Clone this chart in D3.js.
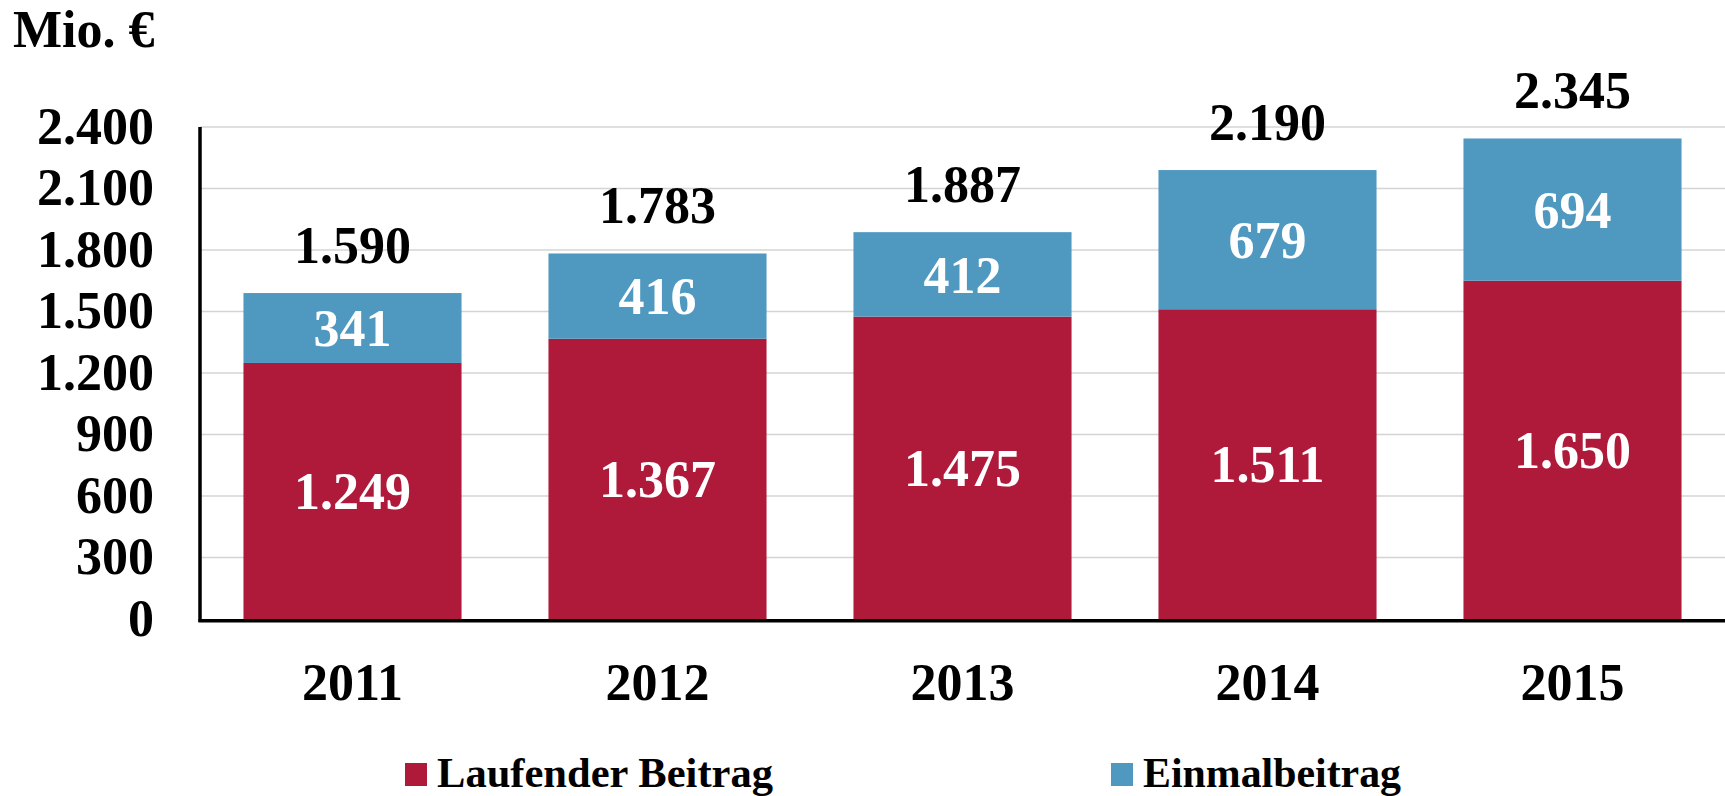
<!DOCTYPE html>
<html>
<head>
<meta charset="utf-8">
<script src="https://cdn.jsdelivr.net/npm/d3@7"></script>
<style>
  html, body { margin: 0; padding: 0; background: #fff; }
  svg { display: block; font-family: "Liberation Serif", "Times New Roman", serif; font-weight: bold; }
</style>
</head>
<body>
<svg id="chart" width="1725" height="796"></svg>
<script>
// ---------- data ----------
const years = ["2011", "2012", "2013", "2014", "2015"];
const laufend = [1249, 1367, 1475, 1511, 1650];
const einmal = [341, 416, 412, 679, 694];
const totals = [1590, 1783, 1887, 2190, 2345];
const yTicks = [0, 300, 600, 900, 1200, 1500, 1800, 2100, 2400];
const seriesNames = ["Laufender Beitrag", "Einmalbeitrag"];
const seriesColors = ["#af1a3a", "#4f98c0"];

// ---------- layout ----------
const plotLeft = 200, plotRight = 1725, plotTop = 127, plotBottom = 619;
const fmt = (v) => d3.format(",")(v).replace(/,/g, ".");

const svg = d3.select("#chart");

const x = d3.scaleBand().domain(years).range([plotLeft, plotRight])
  .paddingInner(0.285).paddingOuter(0.1425);
const y = d3.scaleLinear().domain([0, 2400]).range([plotBottom, plotTop]);

// gridlines
svg.append("g")
  .selectAll("line")
  .data(yTicks.slice(1))
  .join("line")
  .attr("x1", plotLeft).attr("x2", plotRight)
  .attr("y1", (d) => y(d)).attr("y2", (d) => y(d))
  .attr("stroke", "#d4d4d4")
  .attr("stroke-width", 1.5);

// y tick labels
svg.append("g")
  .selectAll("text")
  .data(yTicks)
  .join("text")
  .attr("x", 154)
  .attr("y", (d) => y(d))
  .attr("dy", "0.32em")
  .attr("text-anchor", "end")
  .attr("font-size", 52)
  .text((d) => fmt(d));

// stacked bars
const rows = years.map((yr, i) => ({ year: yr, laufend: laufend[i], einmal: einmal[i], total: totals[i] }));
const stack = d3.stack().keys(["laufend", "einmal"])(rows);

const layer = svg.append("g")
  .selectAll("g")
  .data(stack)
  .join("g")
  .attr("fill", (d, i) => seriesColors[i]);

layer.selectAll("rect")
  .data((d) => d)
  .join("rect")
  .attr("x", (d) => x(d.data.year))
  .attr("width", x.bandwidth())
  .attr("y", (d) => y(d[1]))
  .attr("height", (d) => y(d[0]) - y(d[1]));

// segment labels
layer.selectAll("text")
  .data((d) => d)
  .join("text")
  .attr("x", (d) => x(d.data.year) + x.bandwidth() / 2)
  .attr("y", (d) => (y(d[0]) + y(d[1])) / 2)
  .attr("dy", "0.35em")
  .attr("text-anchor", "middle")
  .attr("font-size", 52)
  .attr("fill", "#fff")
  .text((d) => fmt(d[1] - d[0]));

// totals above bars
svg.append("g")
  .selectAll("text")
  .data(rows)
  .join("text")
  .attr("x", (d) => x(d.year) + x.bandwidth() / 2)
  .attr("y", (d) => y(d.total) - 30)
  .attr("text-anchor", "middle")
  .attr("font-size", 52)
  .attr("fill", "#000")
  .text((d) => fmt(d.total));

// axes lines
svg.append("line")
  .attr("x1", plotLeft).attr("x2", plotLeft)
  .attr("y1", plotTop).attr("y2", plotBottom + 3)
  .attr("stroke", "#000").attr("stroke-width", 3.5);
svg.append("line")
  .attr("x1", plotLeft - 1.5).attr("x2", plotRight)
  .attr("y1", plotBottom + 1.7).attr("y2", plotBottom + 1.7)
  .attr("stroke", "#000").attr("stroke-width", 3.5);

// year labels
svg.append("g")
  .selectAll("text")
  .data(years)
  .join("text")
  .attr("x", (d) => x(d) + x.bandwidth() / 2)
  .attr("y", 700)
  .attr("text-anchor", "middle")
  .attr("font-size", 52)
  .text((d) => d);

// unit label
svg.append("text")
  .attr("x", 13).attr("y", 47)
  .attr("font-size", 52)
  .text("Mio. €");

// legend
const legendX = [405, 1111];
const legendW = [336, 258];
const legend = svg.append("g")
  .selectAll("g")
  .data(seriesNames)
  .join("g")
  .attr("transform", (d, i) => `translate(${legendX[i]},0)`);
legend.append("rect")
  .attr("x", 0).attr("y", 763)
  .attr("width", 22).attr("height", 23)
  .attr("fill", (d, i) => seriesColors[i]);
legend.append("text")
  .attr("x", 32).attr("y", 787)
  .attr("font-size", 42)
  .attr("textLength", (d, i) => legendW[i])
  .attr("lengthAdjust", "spacingAndGlyphs")
  .text((d) => d);
</script>
</body>
</html>
